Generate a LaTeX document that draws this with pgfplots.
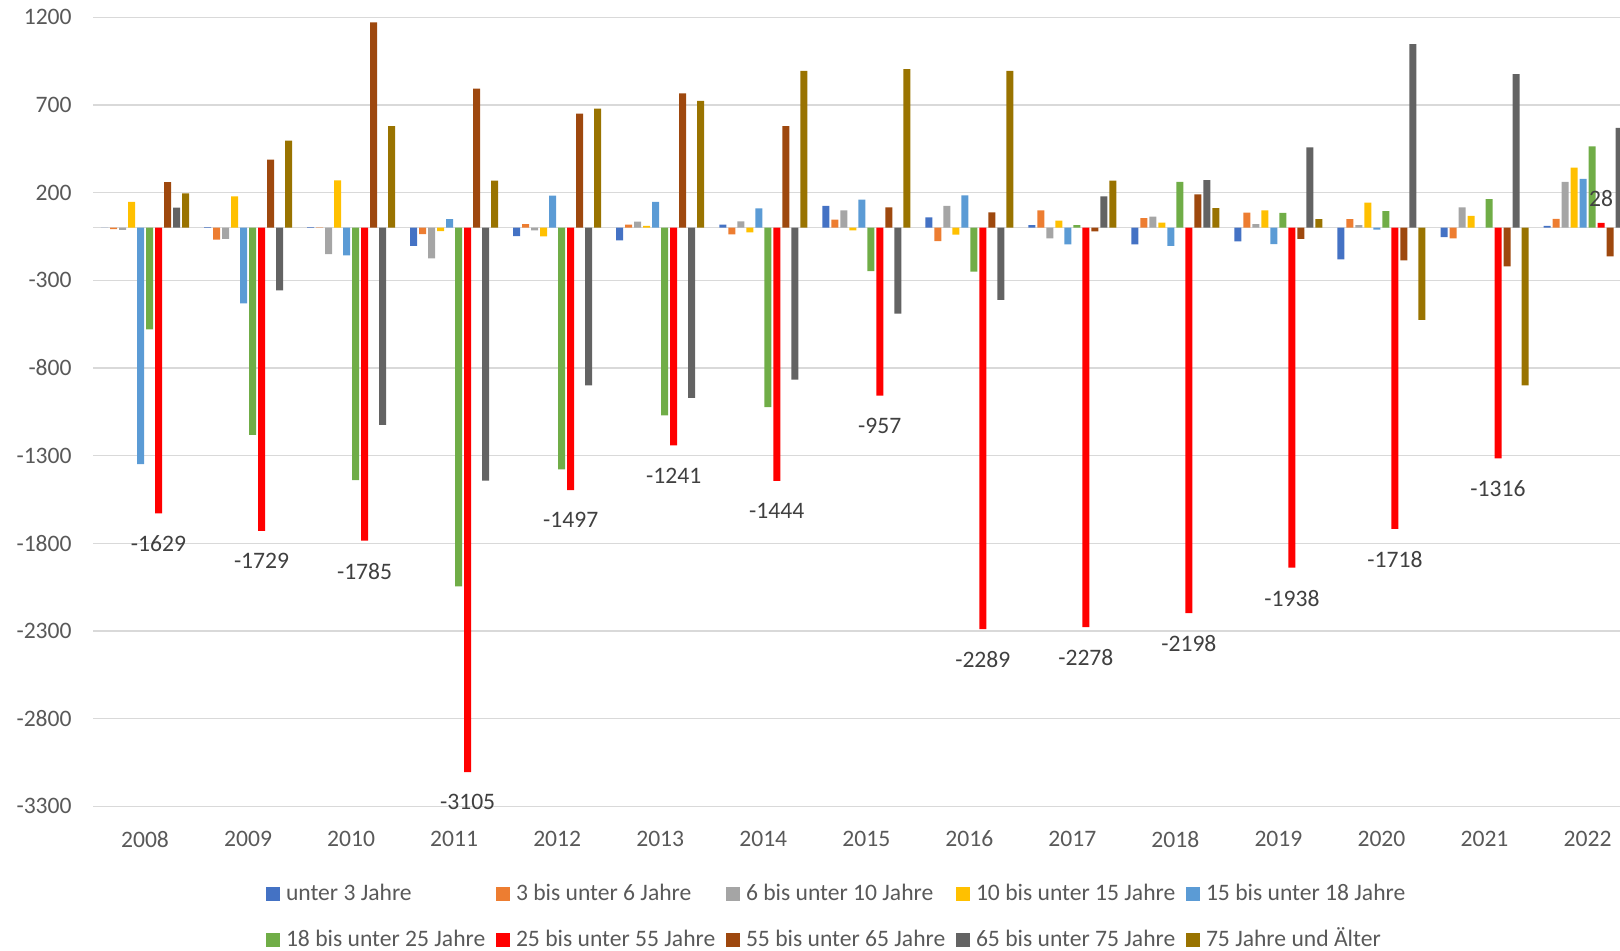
\documentclass[border=0pt]{standalone}
\usepackage{pgfplots}
\pgfplotsset{compat=1.18}
\usepackage{pgfplotstable}
\usepackage{fontspec}
\setmainfont{Carlito}
\definecolor{c1}{HTML}{4472C4}
\definecolor{c2}{HTML}{ED7D31}
\definecolor{c3}{HTML}{A5A5A5}
\definecolor{c4}{HTML}{FFC000}
\definecolor{c5}{HTML}{5B9BD5}
\definecolor{c6}{HTML}{70AD47}
\definecolor{c7}{HTML}{FF0000}
\definecolor{c8}{HTML}{9E480E}
\definecolor{c9}{HTML}{636363}
\definecolor{c10}{HTML}{997300}
\definecolor{gridgray}{HTML}{D9D9D9}
\definecolor{labgray}{HTML}{595959}
\definecolor{datgray}{HTML}{404040}
\pgfplotstableread{
x u3 a36 a610 a1015 a1518 a1825 a2555 a5565 a6575 a75
0 0 -8 -13 148 -1348 -580 -1629 260 114 196
1 4 -68 -63 179 -432 -1181 -1729 388 -357 496
2 3 2 -150 270 -158 -1439 -1785 1171 -1124 580
3 -103 -36 -175 -19 49 -2045 -3105 793 -1443 268
4 -48 21 -15 -49 183 -1378 -1497 650 -899 679
5 -72 17 34 11 148 -1070 -1241 766 -970 724
6 17 -38 36 -27 110 -1023 -1444 580 -867 895
7 125 46 99 -15 160 -247 -957 116 -490 905
8 59 -76 125 -40 184 -251 -2289 87 -411 895
9 15 99 -61 40 -95 15 -2278 -21 179 268
10 -95 55 63 29 -103 262 -2198 190 272 112
11 -78 86 21 99 -93 84 -1938 -63 458 49
12 -181 49 15 143 -11 95 -1718 -186 1047 -525
13 -53 -61 116 68 0 163 -1316 -221 876 -899
14 11 51 262 342 278 464 28 -163 570 0
}\datatable
\newcommand{\lf}{\fontsize{11.8}{14}\selectfont}
\newcommand{\legtxt}[1]{\makebox[108pt][l]{\hspace{3pt}#1}}
\begin{document}
\begin{tikzpicture}
\begin{axis}[
  at={(0,0)}, anchor=south west,
  scale only axis, width=763.25pt, height=394.5pt,
  xmin=-0.5, xmax=14.315, ymin=-3300, ymax=1200,
  enlargelimits=false,
  ybar=1pt, bar width=3.5pt,
  xtick={0,1,2,3,4,5,6,7,8,9,10,11,12,13,14},
  xticklabels={2008,2009,2010,2011,2012,2013,2014,2015,2016,2017,2018,2019,2020,2021,2022},
  ytick={-3300,-2800,-2300,-1800,-1300,-800,-300,200,700,1200},
  yticklabels={-3300,-2800,-2300,-1800,-1300,-800,-300,200,700,1200},
  ymajorgrids, grid style={draw=gridgray, line width=0.65pt},
  extra y ticks={0}, extra y tick labels={}, extra y tick style={grid=major},
  axis line style={draw=none},
  major tick length=0pt,
  tick label style={font=\lf, text=labgray},
  yticklabel style={xshift=-7.4pt},
  xticklabel style={yshift=-8.75pt},
  /pgf/number format/1000 sep={},
  /pgf/number format/assume math mode=true,
  legend columns=5,
  legend cell align=left,
  legend style={at={(0,0)}, anchor=north west, xshift=86.25pt, yshift=-38.6pt,
    draw=none, fill=none, inner sep=0pt, outer sep=0pt, column sep=0pt, row sep=11.5pt,
    font=\lf, text=labgray,
    nodes={inner sep=0pt, text height=8.5pt, text depth=3pt}},
  legend image code/.code={\fill[#1, draw=none] (0pt,-2.75pt) rectangle (7pt,4.25pt);},
]
\addplot[fill=c1, draw=none] table[x=x, y=u3] {\datatable};
\addplot[fill=c2, draw=none] table[x=x, y=a36] {\datatable};
\addplot[fill=c3, draw=none] table[x=x, y=a610] {\datatable};
\addplot[fill=c4, draw=none] table[x=x, y=a1015] {\datatable};
\addplot[fill=c5, draw=none] table[x=x, y=a1518] {\datatable};
\addplot[fill=c6, draw=none] table[x=x, y=a1825] {\datatable};
\addplot[fill=c7, draw=none, nodes near coords, point meta=y,
  every node near coord/.append style={font=\lf, text=datgray, inner sep=9.5pt, yshift=-1.5pt}] table[x=x, y=a2555] {\datatable};
\addplot[fill=c8, draw=none] table[x=x, y=a5565] {\datatable};
\addplot[fill=c9, draw=none] table[x=x, y=a6575] {\datatable};
\addplot[fill=c10, draw=none] table[x=x, y=a75] {\datatable};
\addlegendentry{\legtxt{unter 3 Jahre}}
\addlegendentry{\legtxt{3 bis unter 6 Jahre}}
\addlegendentry{\legtxt{6 bis unter 10 Jahre}}
\addlegendentry{\legtxt{10 bis unter 15 Jahre}}
\addlegendentry{\legtxt{15 bis unter 18 Jahre}}
\addlegendentry{\legtxt{18 bis unter 25 Jahre}}
\addlegendentry{\legtxt{25 bis unter 55 Jahre}}
\addlegendentry{\legtxt{55 bis unter 65 Jahre}}
\addlegendentry{\legtxt{65 bis unter 75 Jahre}}
\addlegendentry{\legtxt{75 Jahre und Älter}}
\end{axis}
\pgfresetboundingbox
\path[use as bounding box] (-46.75pt,-71.85pt) rectangle (763.25pt,403.15pt);
\end{tikzpicture}
\end{document}
